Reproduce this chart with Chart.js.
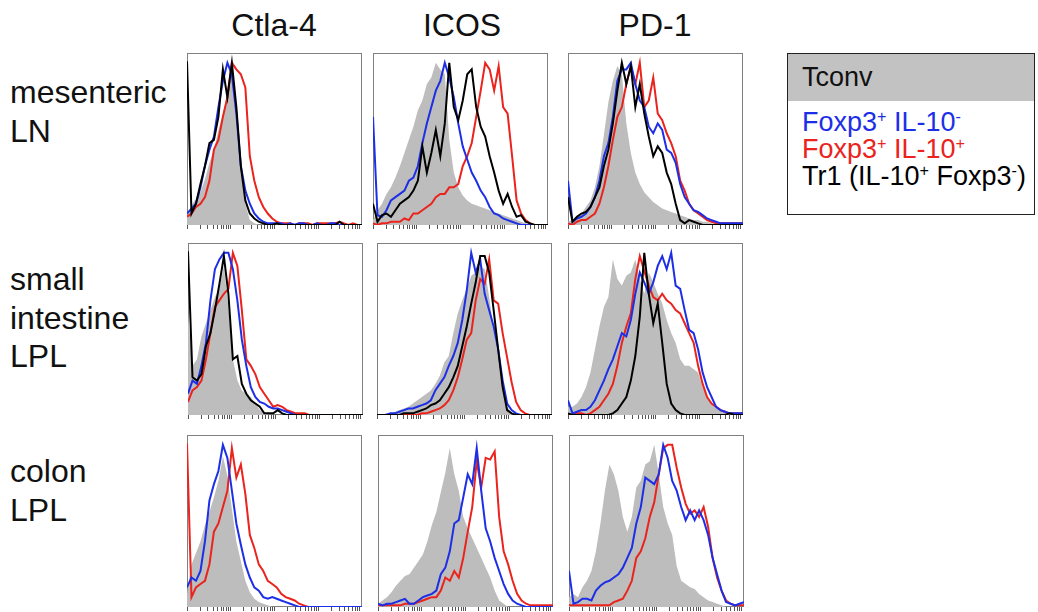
<!DOCTYPE html>
<html>
<head>
<meta charset="utf-8">
<script src="https://cdn.jsdelivr.net/npm/chart.js@4/dist/chart.umd.min.js"></script>
<style>
  html, body { margin: 0; padding: 0; background: #fff; }
  body { width: 1038px; height: 612px; overflow: hidden; position: relative;
         font-family: "Liberation Sans", Arial, sans-serif; color: #111; }
  .head { position: absolute; top: 9px; width: 200px; text-align: center; font-size: 32px; line-height: 32px; }
  .tissue { position: absolute; left: 10px; font-size: 32px; line-height: 38.5px; }
  .panel { position: absolute; width: 175px; height: 176px; }
  #legend { position: absolute; left: 787px; top: 53px; width: 246px; height: 160px;
            border: 1.5px solid #222; font-size: 27px; }
  #legend .lg-head { background: #c2c2c2; height: 47px; line-height: 47px; padding-left: 14px; margin-bottom: 8px; }
  #legend .lg-row { line-height: 27px; padding-left: 14px; }
  sup { font-size: 0.6em; vertical-align: 0.55em; line-height: 0; }
</style>
</head>
<body>
<div id="fig"></div>
<script>
// column / row labels
const markers = ["Ctla-4", "ICOS", "PD-1"];
const tissues = [["mesenteric", "LN"], ["small", "intestine", "LPL"], ["colon", "LPL"]];
const seriesNames = ["Tconv", "Foxp3<sup>+</sup> IL-10<sup>-</sup>", "Foxp3<sup>+</sup> IL-10<sup>+</sup>", "Tr1 (IL-10<sup>+</sup> Foxp3<sup>-</sup>)"];

// 40 fluorescence bins on the biexponential axis
const bins = Array.from({ length: 40 }, (_, i) => i);
// decade range of the hidden log tick axis
const logMin = 1, logMax = 10000;

// mesenteric LN
const mlnCtlaTconv = [5,12,16,20,28,38,46,58,68,80, 92,64,38,13,3,1,0,0,0,0, 0,0,0,0,0,0,0,0,0,0, 0,0,0,0,0,0,0,0,0,0];
const mlnCtlaNeg   = [7,10,13,23,36,46,54,72,88,99, 92,68,36,21,13,7,4,2,1,1, 1,1,0,1,0,1,1,0,0,1, 0,0,1,1,0,0,0,0,0,0];
const mlnCtlaPos   = [5,7,11,13,17,27,46,52,66,78, 99,95,92,84,42,27,17,11,7,4, 2,1,1,1,0,1,1,1,0,1, 1,1,1,1,2,1,0,1,0,0];
const mlnCtlaTr1   = [100,7,13,25,36,50,52,66,95,78, 99,72,36,15,7,4,2,1,0,0, 1,0,0,0,0,0,0,0,0,0, 0,0,0,0,2,0,0,0,0,0];

const mlnIcosTconv = [3,9,13,19,23,29,36,44,52,60, 70,76,86,90,99,95,92,52,32,23, 18,15,13,12,11,10,9,8,7,6, 5,4,3,2,1,0,0,0,0,0];
const mlnIcosNeg   = [66,6,5,9,15,17,19,21,27,29, 36,50,62,72,82,88,99,90,78,62, 48,40,32,27,21,17,11,7,6,4, 3,2,1,0,0,0,0,0,0,0];
const mlnIcosPos   = [1,0,1,1,2,2,2,4,3,7, 7,9,11,13,17,19,19,23,23,25, 36,42,50,66,82,99,95,82,97,72, 68,42,15,7,3,1,0,0,0,0];
const mlnIcosTr1   = [13,2,6,7,5,9,13,15,17,21, 27,48,32,44,58,42,62,99,72,64, 76,92,95,72,60,54,42,32,21,13, 19,11,5,6,2,1,0,0,0,0];

const mlnPd1Tconv  = [2,3,5,7,11,15,23,36,55,75, 88,97,92,62,44,32,25,20,17,14, 12,10,9,8,7,6,5,4,3,3, 2,2,1,0,0,0,0,0,0,0];
const mlnPd1Neg    = [27,2,4,5,7,11,17,27,42,50, 66,88,95,95,99,86,76,72,60,56, 62,58,46,44,38,25,17,13,9,8, 6,4,3,2,1,1,1,1,1,1];
const mlnPd1Pos    = [1,0,2,3,3,5,7,13,23,36, 52,66,72,86,97,86,99,72,76,90, 68,64,56,50,42,27,21,13,9,7, 5,3,2,1,1,1,1,1,1,1];
const mlnPd1Tr1    = [17,2,5,7,8,11,17,23,36,46, 62,82,99,86,97,72,86,68,54,42, 48,44,32,25,13,3,1,3,2,1, 0,0,0,0,0,0,0,0,0,0];

// small intestine LPL
const siCtlaTconv  = [62,30,34,48,56,64,72,77,91,66, 34,21,15,13,11,7,3,1,0,0, 0,0,0,0,0,0,0,0,0,0, 0,0,0,0,0,0,0,0,0,0];
const siCtlaNeg    = [13,21,19,30,44,70,89,95,99,99, 89,70,46,30,17,11,8,7,5,4, 4,3,2,1,0,0,0,0,0,0, 0,0,0,0,0,0,0,0,0,0];
const siCtlaPos    = [8,15,17,21,34,50,66,70,74,77, 99,91,64,34,30,25,17,13,9,5, 6,5,3,2,1,1,1,0,0,0, 0,0,0,0,0,0,0,0,0,0];
const siCtlaTr1    = [100,23,21,25,42,50,64,80,97,74, 34,36,19,13,9,7,5,1,1,1, 3,1,0,0,0,0,0,0,0,0, 0,0,0,0,0,0,0,0,0,0];

const siIcosTconv  = [0,0,1,1,2,3,4,5,7,9, 11,13,15,19,24,32,36,50,62,70, 77,85,87,91,89,72,52,36,19,5, 1,0,0,0,0,0,0,0,0,0];
const siIcosNeg    = [0,0,0,1,1,2,3,4,4,5, 6,7,9,15,19,23,30,36,44,58, 76,99,87,95,74,64,54,40,21,7, 3,1,0,0,0,0,0,0,0,0];
const siIcosPos    = [0,0,0,0,0,0,0,0,0,0, 1,1,2,3,4,6,9,15,23,34, 46,50,70,83,80,95,70,68,50,35, 20,8,3,1,0,0,0,0,0,0];
const siIcosTr1    = [0,0,0,0,0,0,1,1,1,2, 3,4,6,7,9,13,17,23,30,42, 54,68,81,97,97,87,64,40,17,3, 1,0,0,0,0,0,0,0,0,0];

const siPd1Tconv   = [5,5,7,11,17,26,40,54,66,72, 95,83,79,85,87,95,83,74,87,81, 74,68,58,50,44,34,30,30,28,26, 17,11,7,5,3,2,1,1,1,1];
const siPd1Neg     = [9,1,2,3,3,5,9,15,21,28, 34,42,50,48,58,74,87,81,74,81, 91,97,89,99,79,77,64,52,50,40, 26,17,11,5,3,2,1,1,1,1];
const siPd1Pos     = [0,0,1,1,0,1,3,5,9,13, 19,30,44,54,62,83,97,88,79,72, 70,74,70,68,64,62,56,50,44,30, 19,11,7,5,3,2,1,1,1,1];
const siPd1Tr1     = [1,0,0,0,0,0,0,0,0,0, 1,3,7,11,21,36,60,99,74,56, 68,44,19,7,3,1,0,0,0,0, 0,0,0,0,0,0,1,0,0,0];

// colon LPL (no Tr1 curve)
const colCtlaTconv = [8,26,33,40,50,58,67,77,92,80, 60,40,28,16,9,5,3,2,1,0, 0,0,0,0,0,0,0,0,0,0, 0,0,0,0,0,0,0,0,0,0];
const colCtlaNeg   = [12,18,16,22,40,65,75,83,99,91, 71,51,38,26,18,12,10,6,5,6, 5,4,3,2,1,0,0,0,0,0, 0,0,0,0,0,0,0,0,0,0];
const colCtlaPos   = [100,6,12,14,16,26,46,51,61,71, 97,79,87,69,44,36,26,22,16,14, 12,8,6,5,4,2,1,0,0,0, 0,0,0,0,0,0,0,0,0,0];

const colIcosTconv = [2,4,6,9,13,16,19,20,24,28, 32,40,50,58,70,82,97,81,71,55, 48,42,36,30,24,18,10,4,2,0, 0,0,0,0,0,0,0,0,0,0];
const colIcosNeg   = [2,1,2,2,3,4,5,2,2,4, 6,7,8,10,20,24,34,51,53,67, 81,75,97,71,48,40,30,22,14,8, 4,2,1,0,0,0,0,0,0,0];
const colIcosPos   = [1,1,1,1,1,1,2,2,2,3, 4,5,6,6,10,18,16,22,18,30, 46,61,89,73,91,90,95,55,34,26, 16,8,4,2,1,1,1,1,1,1];

const colPd1Tconv  = [6,8,6,12,16,22,34,51,71,87, 81,71,55,46,55,73,77,87,89,99, 81,61,51,44,25,16,14,12,11,8, 6,4,3,2,1,0,0,0,0,0];
const colPd1Neg    = [22,2,3,5,5,4,10,13,15,16, 18,20,24,30,36,51,61,79,77,75, 81,99,91,77,71,61,53,59,53,59, 53,44,30,20,10,3,2,1,2,3];
const colPd1Pos    = [1,1,1,1,1,1,1,1,1,1, 3,4,5,10,16,30,34,42,55,64, 81,97,99,99,85,73,63,57,59,55, 61,49,30,18,10,4,2,1,1,1];

const panels = [
  [[mlnCtlaTconv, mlnCtlaNeg, mlnCtlaPos, mlnCtlaTr1], [mlnIcosTconv, mlnIcosNeg, mlnIcosPos, mlnIcosTr1], [mlnPd1Tconv, mlnPd1Neg, mlnPd1Pos, mlnPd1Tr1]],
  [[siCtlaTconv, siCtlaNeg, siCtlaPos, siCtlaTr1], [siIcosTconv, siIcosNeg, siIcosPos, siIcosTr1], [siPd1Tconv, siPd1Neg, siPd1Pos, siPd1Tr1]],
  [[colCtlaTconv, colCtlaNeg, colCtlaPos, null], [colIcosTconv, colIcosNeg, colIcosPos, null], [colPd1Tconv, colPd1Neg, colPd1Pos, null]]
];

// layout
const colLeft = [[187, 373, 568], [188, 377, 568], [187, 378, 569]];
const rowTop = [53, 243, 435];
const panelH = 172;
const headCenter = [274, 462, 655];
const tissueTop = [73, 260, 452];

const GRAY = "#bdbdbd";
const BLUE = "#1d2fe6";
const RED = "#eb231d";
const BLACK = "#000";

const fig = document.getElementById("fig");

markers.forEach((m, c) => {
  const d = document.createElement("div");
  d.className = "head";
  d.style.left = (headCenter[c] - 100) + "px";
  d.textContent = m;
  fig.appendChild(d);
});

tissues.forEach((lines, r) => {
  const d = document.createElement("div");
  d.className = "tissue";
  d.style.top = tissueTop[r] + "px";
  d.innerHTML = lines.join("<br>");
  fig.appendChild(d);
});

const legend = document.createElement("div");
legend.id = "legend";
const legendColors = [BLACK, BLUE, RED, BLACK];
legend.innerHTML = `<div class="lg-head">${seriesNames[0]}</div>` +
  seriesNames.slice(1).map((n, i) => `<div class="lg-row" style="color:${legendColors[i + 1]}">${n}</div>`).join("");
fig.appendChild(legend);

const framePlugin = {
  id: "frame",
  beforeDatasetsDraw(chart) {
    const { ctx, chartArea: a } = chart;
    ctx.save();
    ctx.strokeStyle = "#808080";
    ctx.lineWidth = 1;
    ctx.strokeRect(a.left + 0.5, a.top + 0.5, a.width - 1, a.height - 1);
    ctx.restore();
  }
};

function lineSet(values, color) {
  return {
    data: values, xAxisID: "x", yAxisID: "y",
    borderColor: color, borderWidth: 2, pointRadius: 0, tension: 0, fill: false
  };
}

function makePanel(r, c) {
  const [tconv, neg, pos, tr1] = panels[r][c];
  const box = document.createElement("div");
  box.className = "panel";
  box.style.left = colLeft[r][c] + "px";
  box.style.top = rowTop[r] + "px";
  box.style.height = (panelH + 4) + "px";
  const cv = document.createElement("canvas");
  box.appendChild(cv);
  fig.appendChild(box);

  const datasets = [];
  if (tr1) datasets.push(lineSet(tr1, BLACK));
  datasets.push(lineSet(neg, BLUE));
  datasets.push(lineSet(pos, RED));
  datasets.push({
    data: tconv, xAxisID: "x", yAxisID: "y",
    borderWidth: 0, backgroundColor: GRAY, fill: "origin", pointRadius: 0, tension: 0
  });

  new Chart(cv, {
    type: "line",
    data: { labels: bins, datasets },
    options: {
      responsive: true,
      maintainAspectRatio: false,
      animation: false,
      layout: { padding: 0, autoPadding: false },
      plugins: { legend: { display: false }, tooltip: { enabled: false } },
      scales: {
        x: { display: false },
        y: { display: false, min: 0, max: 105 },
        xt: {
          type: "logarithmic", position: "bottom", min: logMin, max: logMax,
          ticks: { display: false, autoSkip: false },
          afterBuildTicks: (axis) => {
            axis.ticks = axis.ticks.filter(t => {
              const p = Math.pow(10, Math.floor(Math.log10(t.value) + 1e-9));
              return Math.abs(t.value / p - Math.round(t.value / p)) < 1e-6;
            });
          },
          grid: { drawOnChartArea: false, drawTicks: true, tickLength: 4, color: "#555", lineWidth: 1 },
          border: { display: false }
        }
      }
    },
    plugins: [framePlugin]
  });
}

for (let r = 0; r < 3; r++) {
  for (let c = 0; c < 3; c++) makePanel(r, c);
}
</script>
</body>
</html>
